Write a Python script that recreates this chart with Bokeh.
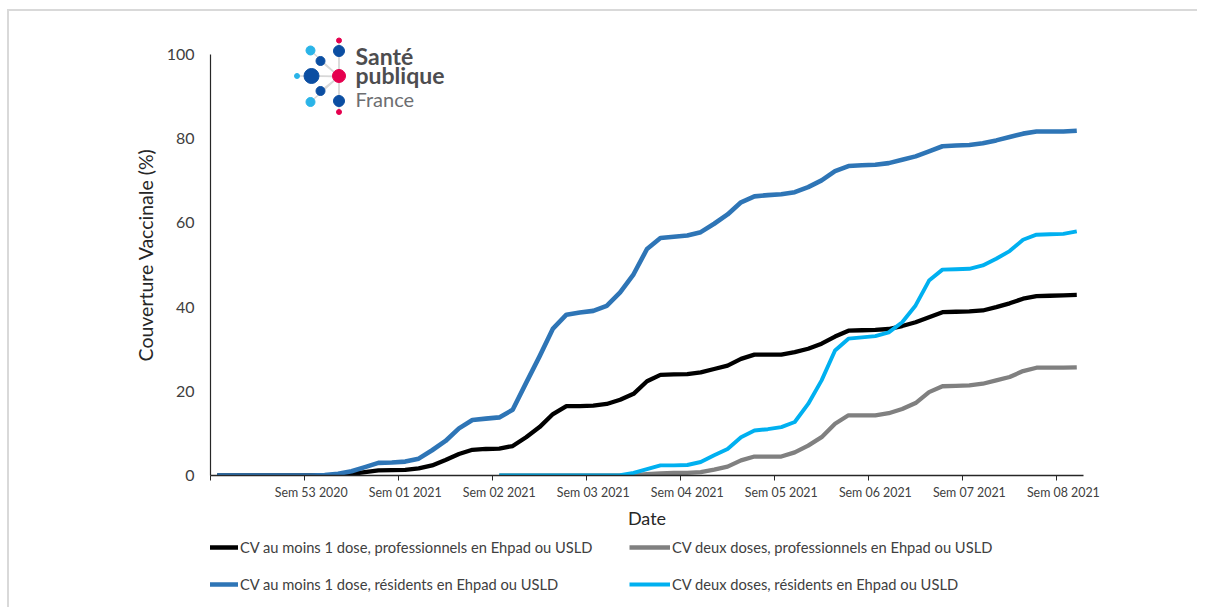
from bokeh.plotting import figure
from bokeh.models import (Range1d, FixedTicker, Legend, LegendItem, Label, LinearAxis)
from bokeh.layouts import column
from bokeh.embed import file_html
from bokeh.resources import INLINE

# ---------------- data ----------------
day_index = list(range(65))  # one category per day, 21 Dec 2020 -> 23 Feb 2021
week_labels = ["Sem 53 2020", "Sem 01 2021", "Sem 02 2021", "Sem 03 2021", "Sem 04 2021",
               "Sem 05 2021", "Sem 06 2021", "Sem 07 2021", "Sem 08 2021"]
week_label_days = [7, 14, 21, 28, 35, 42, 49, 56, 63]
week_tick_days = [-0.5, 6.5, 13.5, 20.5, 27.5, 34.5, 41.5, 48.5, 55.5, 62.5]
y_ticks = [0, 20, 40, 60, 80, 100]

pro_dose1 = [0, 0, 0, 0, 0, 0, 0, 0, 0, 0.1,
             0.4, 0.8, 1.2, 1.3, 1.35, 1.7, 2.4, 3.7, 5.1, 6.1,
             6.3, 6.4, 7.0, 9.1, 11.5, 14.6, 16.5, 16.5, 16.6, 17.0,
             18.0, 19.4, 22.4, 23.9, 24.0, 24.1, 24.5, 25.3, 26.1, 27.7,
             28.7, 28.7, 28.7, 29.3, 30.1, 31.3, 33.0, 34.4, 34.5, 34.6,
             34.8, 35.5, 36.4, 37.6, 38.8, 38.9, 39.0, 39.2, 40.0, 40.9,
             42.0, 42.6, 42.7, 42.8, 42.9]

res_dose1 = [0, 0, 0, 0, 0, 0, 0, 0, 0.1, 0.4,
             1.0, 2.0, 3.0, 3.1, 3.3, 4.0, 6.0, 8.2, 11.2, 13.2,
             13.5, 13.8, 15.6, 22.0, 28.3, 34.9, 38.2, 38.7, 39.1, 40.3,
             43.5, 47.8, 53.8, 56.4, 56.7, 57.0, 57.8, 59.8, 62.0, 64.9,
             66.3, 66.6, 66.8, 67.3, 68.5, 70.1, 72.3, 73.5, 73.7, 73.8,
             74.2, 75.0, 75.8, 77.0, 78.2, 78.4, 78.5, 78.9, 79.6, 80.4,
             81.2, 81.7, 81.7, 81.7, 81.9]

dose2_days = list(range(21, 65))
pro_dose2 = [0, 0, 0, 0, 0, 0, 0, 0, 0, 0,
             0.1, 0.3, 0.5, 0.6, 0.6, 0.8, 1.4, 2.1, 3.6, 4.5,
             4.5, 4.5, 5.5, 7.1, 9.1, 12.3, 14.3, 14.3, 14.3, 14.8,
             15.8, 17.2, 19.8, 21.2, 21.3, 21.4, 21.8, 22.6, 23.4, 24.8,
             25.6, 25.6, 25.6, 25.7]
res_dose2 = [0, 0, 0, 0, 0, 0, 0, 0, 0, 0.1,
             0.6, 1.5, 2.4, 2.4, 2.5, 3.2, 4.8, 6.3, 9.1, 10.7,
             11.0, 11.5, 12.7, 17.0, 22.6, 29.7, 32.5, 32.8, 33.1, 34.0,
             36.4, 40.4, 46.3, 48.9, 49.0, 49.1, 49.9, 51.5, 53.3, 56.0,
             57.2, 57.3, 57.4, 58.0]

series_names = ["CV au moins 1 dose, professionnels en Ehpad ou USLD",
                "CV deux doses, professionnels en Ehpad ou USLD",
                "CV au moins 1 dose, résidents en Ehpad ou USLD",
                "CV deux doses, résidents en Ehpad ou USLD"]
series_colors = ["#000000", "#808080", "#2E75B6", "#00B0F0"]
series_widths = [4.3, 4.3, 4.6, 3.9]

FONT = "Lato"
TXT = "#404040"

# ---------------- main figure ----------------
W = 1188
FL, FR, FT, FB = 201, 114, 23, 62    # borders around the plot frame
FRAME_H = 441
H1 = FT + FRAME_H + FB
Y_TOP = 104.75                         # room above 100 for the logo
p = figure(width=W, height=H1, output_backend="svg", toolbar_location=None,
           x_range=Range1d(-0.5, 64.5), y_range=Range1d(0, Y_TOP),
           min_border_left=FL, min_border_right=FR, min_border_top=FT, min_border_bottom=FB)
p.outline_line_color = None
p.xgrid.grid_line_color = None
p.ygrid.grid_line_color = None

# x axis 1: tick marks on week boundaries (no labels of its own)
ax = p.xaxis[0]
ax.ticker = FixedTicker(ticks=week_tick_days)
ax.major_label_overrides = {t: "" for t in week_tick_days}
ax.major_label_text_font_size = "0px"
ax.major_label_standoff = 0
ax.major_tick_out = 5
ax.major_tick_in = 0
ax.minor_tick_line_color = None
ax.axis_line_color = "#262626"
ax.major_tick_line_color = "#262626"
ax.axis_line_width = 1.5

# x axis 2: week labels centred on the first day of each week
ax2 = LinearAxis(ticker=FixedTicker(ticks=week_label_days),
                 major_label_overrides={d: l for d, l in zip(week_label_days, week_labels)},
                 axis_line_color=None, major_tick_line_color=None, minor_tick_line_color=None,
                 major_label_standoff=-2, major_label_text_font=FONT,
                 major_label_text_font_size="12.4px", major_label_text_color=TXT,
                 axis_label="Date", axis_label_text_font=FONT, axis_label_text_font_style="normal",
                 axis_label_text_font_size="18px", axis_label_text_color="#262626",
                 axis_label_standoff=4)
p.add_layout(ax2, "below")

ay = p.yaxis[0]
ay.ticker = FixedTicker(ticks=y_ticks)
ay.bounds = (0, 100)
ay.major_tick_out = 0
ay.major_tick_in = 0
ay.minor_tick_line_color = None
ay.axis_line_color = "#262626"
ay.axis_line_width = 1.2
ay.major_label_text_font = FONT
ay.major_label_text_font_size = "16px"
ay.major_label_text_color = TXT
ay.major_label_standoff = 16
ay.axis_label = "Couverture Vaccinale (%)"
ay.axis_label_text_font = FONT
ay.axis_label_text_font_style = "normal"
ay.axis_label_text_font_size = "19.5px"
ay.axis_label_text_color = "#262626"
ay.axis_label_standoff = 7

# ---------------- series ----------------
p.line(day_index, pro_dose1, line_color=series_colors[0], line_width=series_widths[0], line_join="round")
p.line(dose2_days, pro_dose2, line_color=series_colors[1], line_width=series_widths[1], line_join="round")
p.line(day_index, res_dose1, line_color=series_colors[2], line_width=series_widths[2], line_join="round")
p.line(dose2_days, res_dose2, line_color=series_colors[3], line_width=series_widths[3], line_join="round")

# ---------------- logo (decoration, pixel layout converted to data space) ----------------
X0, Y0 = 210, 475                    # page pixel of the frame's left edge / of y = 0
PX_PER_DAY, PX_PER_PCT = 873 / 65, 4.21


def fx(px):
    return (px - X0) / PX_PER_DAY - 0.5


def fy(py):
    return (Y0 - py) / PX_PER_PCT


hub = (338.5, 76)
dots = [  # (px, py, size, colour)
    (310, 50, 9, "#2AB4E8"), (338.5, 50.5, 11, "#0B4EA2"), (338.5, 40, 5, "#E5004E"),
    (320, 60.5, 9, "#0B4EA2"), (296.5, 75.5, 5, "#2AB4E8"), (311, 75.5, 15, "#0B4EA2"),
    (338.5, 75.5, 13, "#E5004E"), (320, 90.5, 9, "#0B4EA2"), (310, 101.5, 9, "#2AB4E8"),
    (338.5, 100.5, 11, "#0B4EA2"), (338.5, 111.5, 5, "#E5004E")]
p.segment(x0=[fx(hub[0])] * len(dots), y0=[fy(hub[1])] * len(dots),
          x1=[fx(d[0]) for d in dots], y1=[fy(d[1]) for d in dots],
          line_color="#D8D8D8", line_width=1.5)
p.scatter(x=[fx(d[0]) for d in dots], y=[fy(d[1]) for d in dots],
          size=[d[2] for d in dots], color=[d[3] for d in dots], marker="circle")
for txt, py, style, col, size in [("Santé", 56, "bold", "#4D4D4F", "23px"),
                                  ("publique", 75, "bold", "#4D4D4F", "23px"),
                                  ("France", 99, "normal", "#6D6E71", "20px")]:
    p.add_layout(Label(x=fx(355), y=fy(py), text=txt, text_font=FONT, text_font_style=style,
                       text_color=col, text_font_size=size, text_baseline="alphabetic"))

# ---------------- legend strip (separate figure below the chart) ----------------
H2 = 70
leg = figure(width=W, height=H2, output_backend="svg", toolbar_location=None,
             x_axis_location=None, y_axis_location=None,
             x_range=Range1d(0, 1), y_range=Range1d(0, 1),
             min_border_left=0, min_border_right=0, min_border_top=0, min_border_bottom=0)
leg.outline_line_color = None
leg.xgrid.grid_line_color = None
leg.ygrid.grid_line_color = None
items = []
for name, col, lw in zip(series_names, series_colors, series_widths):
    # legend-only renderer: its points lie outside the strip's visible range
    r = leg.line(x=[-10, -9], y=[-10, -10], line_color=col, line_width=lw)
    items.append(LegendItem(label=name, renderers=[r]))
legend = Legend(items=items, ncols=2, location=(-13, 13), orientation="horizontal",
                glyph_width=41, glyph_height=20, label_height=20, label_width=372,
                label_standoff=2, spacing=17, padding=0, margin=0,
                border_line_color=None, background_fill_alpha=0,
                label_text_font=FONT, label_text_font_size="14.7px", label_text_color=TXT)
leg.add_layout(legend, "center")

page = column(p, leg, spacing=0)
page.styles = {"margin-left": "7px", "margin-top": "9px",
               "border-top": "2px solid #D9D9D9", "border-left": "2px solid #D9D9D9"}

open("out.html", "w").write(file_html(page, INLINE))
